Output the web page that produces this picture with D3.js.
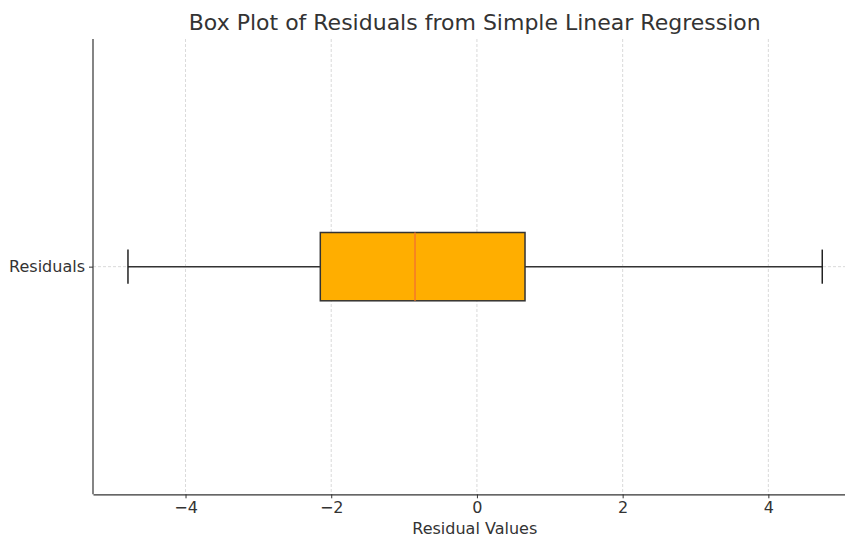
<!DOCTYPE html>
<html>
<head>
<meta charset="utf-8">
<script src="https://cdn.jsdelivr.net/npm/d3@7"></script>
<style>
  body { margin: 0; background: #fff; }
  svg text { font-family: "DejaVu Sans", sans-serif; fill: #333; }
</style>
</head>
<body>
<svg id="chart" width="845" height="537"></svg>
<script>
// box plot summary
const categories = ["Residuals"];
const whiskerLow = [-4.79];
const q1 = [-2.15];
const median = [-0.85];
const q3 = [0.66];
const whiskerHigh = [4.74];
const xTicks = [-4, -2, 0, 2, 4];

const svg = d3.select("#chart");
const plotLeft = 93, plotRight = 856.5, plotTop = 39, plotBottom = 494.3;

const x = d3.scaleLinear().domain([-5.27, 5.21]).range([plotLeft, plotRight]);
const y = d3.scaleLinear().domain([1.5, 0.5]).range([plotTop, plotBottom]);

// grid
svg.append("g").selectAll("line")
  .data(xTicks)
  .enter().append("line")
  .attr("x1", d => x(d)).attr("x2", d => x(d))
  .attr("y1", plotTop).attr("y2", plotBottom)
  .attr("stroke", "#d0d0d0").attr("stroke-width", 0.8)
  .attr("stroke-dasharray", "3,2");

svg.append("g").selectAll("line")
  .data(categories)
  .enter().append("line")
  .attr("x1", plotLeft).attr("x2", 845)
  .attr("y1", (d, i) => y(i + 1)).attr("y2", (d, i) => y(i + 1))
  .attr("stroke", "#d0d0d0").attr("stroke-width", 0.8)
  .attr("stroke-dasharray", "3,2");

// boxes
const boxH = y(0.5) - y(0.65);   // widths 0.15
const capH = boxH / 2;
const g = svg.append("g");
categories.forEach((c, i) => {
  const cy = y(i + 1);
  g.append("line")
    .attr("x1", x(whiskerLow[i])).attr("x2", x(q1[i]))
    .attr("y1", cy).attr("y2", cy)
    .attr("stroke", "#333").attr("stroke-width", 1.5);
  g.append("line")
    .attr("x1", x(q3[i])).attr("x2", x(whiskerHigh[i]))
    .attr("y1", cy).attr("y2", cy)
    .attr("stroke", "#333").attr("stroke-width", 1.5);
  [whiskerLow[i], whiskerHigh[i]].forEach(v => {
    g.append("line")
      .attr("x1", x(v)).attr("x2", x(v))
      .attr("y1", cy - capH / 2).attr("y2", cy + capH / 2)
      .attr("stroke", "#222").attr("stroke-width", 1.5);
  });
  g.append("rect")
    .attr("x", x(q1[i])).attr("y", cy - boxH / 2)
    .attr("width", x(q3[i]) - x(q1[i])).attr("height", boxH)
    .attr("fill", "#ffae00").attr("stroke", "#333").attr("stroke-width", 1.5);
  g.append("line")
    .attr("x1", x(median[i])).attr("x2", x(median[i]))
    .attr("y1", cy - boxH / 2).attr("y2", cy + boxH / 2)
    .attr("stroke", "#f5782a").attr("stroke-width", 1.5);
});

// axes
const xAxis = svg.append("g")
  .attr("transform", `translate(0,${plotBottom})`)
  .call(d3.axisBottom(x).tickValues(xTicks).tickSize(4).tickSizeOuter(0).tickPadding(3)
    .tickFormat(d => d < 0 ? "\u2212" + Math.abs(d) : d));
xAxis.select(".domain").attr("stroke", "#333").attr("stroke-width", 1.2);
xAxis.selectAll(".tick line").attr("stroke", "#333");
xAxis.selectAll("text").attr("font-size", 16).style("fill", "#333");

const yAxis = svg.append("g")
  .attr("transform", `translate(${plotLeft},0)`)
  .call(d3.axisLeft(y).tickValues([1]).tickSize(4).tickSizeOuter(0).tickPadding(4)
    .tickFormat((d, i) => categories[i]));
yAxis.select(".domain").attr("d", `M0,${plotTop}V${plotBottom}`)
  .attr("stroke", "#333").attr("stroke-width", 1.2);
yAxis.selectAll(".tick line").attr("stroke", "#333");
yAxis.selectAll("text").attr("font-size", 16).style("fill", "#333");

// titles
svg.append("text")
  .attr("x", (plotLeft + plotRight) / 2).attr("y", 30)
  .attr("text-anchor", "middle").attr("font-size", 22)
  .text("Box Plot of Residuals from Simple Linear Regression");

svg.append("text")
  .attr("x", (plotLeft + plotRight) / 2).attr("y", 534)
  .attr("text-anchor", "middle").attr("font-size", 16)
  .text("Residual Values");
</script>
</body>
</html>
